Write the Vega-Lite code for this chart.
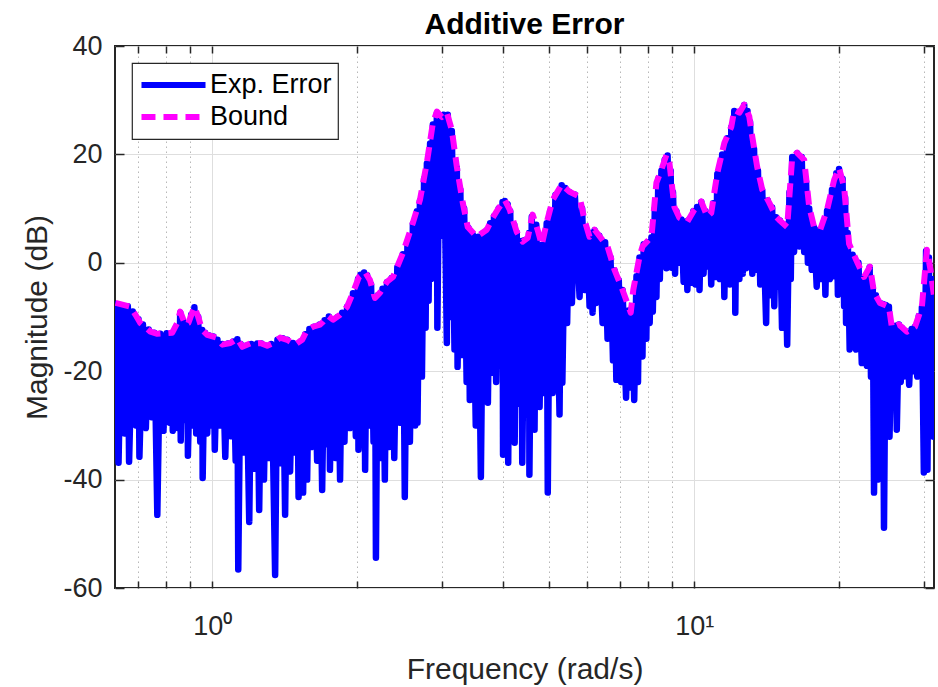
{
  "$schema": "https://vega.github.io/schema/vega-lite/v6.json",
  "width": 819,
  "height": 542,
  "autosize": {"type": "none"},
  "padding": {"left": 115, "top": 46, "right": 4, "bottom": 99},
  "background": "white",
  "title": {"text": "Additive Error", "fontSize": 30, "font": "Liberation Sans", "fontWeight": "bold", "color": "#000000", "anchor": "middle", "frame": "group", "baseline": "alphabetic", "offset": -32},
  "config": {
    "view": {"stroke": "#262626", "strokeWidth": 2},
    "legend": {"orient": "none", "legendX": 17, "legendY": 17, "title": null, "symbolType": "stroke", "symbolSize": 4100, "clipHeight": 32, "symbolStrokeWidth": 6, "labelFontSize": 27, "labelFont": "Liberation Sans", "labelColor": "#000000", "fillColor": "#ffffff", "strokeColor": "#262626", "strokeWidth": 1.2, "padding": 6, "labelOffset": 1, "rowPadding": 0, "symbolOffset": 0, "cornerRadius": 0}
  },
  "datasets": {
    "error": [
      {"f":0.630,"m":-7.6},{"f":0.639,"m":-36.9},{"f":0.648,"m":-7.9},{"f":0.658,"m":-31.5},{"f":0.668,"m":-8.0},{"f":0.672,"m":-36.7},{"f":0.684,"m":-9.0},{"f":0.694,"m":-30.0},{"f":0.703,"m":-10.4},{"f":0.706,"m":-35.8},{"f":0.718,"m":-11.4},{"f":0.728,"m":-30.5},{"f":0.738,"m":-12.3},{"f":0.748,"m":-28.5},{"f":0.758,"m":-12.9},{"f":0.769,"m":-46.5},{"f":0.780,"m":-13.1},{"f":0.792,"m":-31.0},{"f":0.804,"m":-13.0},{"f":0.815,"m":-29.5},{"f":0.826,"m":-12.9},{"f":0.828,"m":-31.0},{"f":0.840,"m":-12.0},{"f":0.850,"m":-30.5},{"f":0.858,"m":-9.2},{"f":0.860,"m":-32.8},{"f":0.870,"m":-10.8},{"f":0.878,"m":-29.0},{"f":0.888,"m":-11.3},{"f":0.890,"m":-35.6},{"f":0.904,"m":-9.6},{"f":0.912,"m":-30.0},{"f":0.918,"m":-8.2},{"f":0.926,"m":-31.5},{"f":0.935,"m":-10.0},{"f":0.944,"m":-33.0},{"f":0.953,"m":-12.4},{"f":0.955,"m":-39.7},{"f":0.966,"m":-12.9},{"f":0.976,"m":-31.5},{"f":0.986,"m":-13.4},{"f":0.995,"m":-30.0},
      {"f":1.005,"m":-13.6},{"f":1.012,"m":-34.5},{"f":1.025,"m":-14.2},{"f":1.037,"m":-30.0},{"f":1.049,"m":-15.0},{"f":1.064,"m":-35.8},{"f":1.078,"m":-14.9},{"f":1.092,"m":-32.0},{"f":1.105,"m":-14.5},{"f":1.118,"m":-36.5},{"f":1.127,"m":-14.1},{"f":1.132,"m":-56.6},{"f":1.145,"m":-15.0},{"f":1.160,"m":-35.0},{"f":1.175,"m":-15.3},{"f":1.193,"m":-47.8},{"f":1.205,"m":-15.0},{"f":1.222,"m":-38.0},{"f":1.238,"m":-14.9},{"f":1.251,"m":-45.6},{"f":1.265,"m":-14.9},{"f":1.280,"m":-40.0},{"f":1.295,"m":-15.3},{"f":1.310,"m":-36.0},{"f":1.325,"m":-15.0},{"f":1.350,"m":-57.6},{"f":1.365,"m":-14.2},{"f":1.383,"m":-37.0},{"f":1.400,"m":-13.9},{"f":1.416,"m":-46.5},{"f":1.430,"m":-14.2},{"f":1.450,"m":-38.5},{"f":1.470,"m":-14.8},{"f":1.485,"m":-35.0},{"f":1.500,"m":-15.0},{"f":1.510,"m":-43.2},{"f":1.525,"m":-14.5},{"f":1.543,"m":-42.4},{"f":1.560,"m":-13.2},{"f":1.573,"m":-40.0},{"f":1.590,"m":-12.2},{"f":1.605,"m":-34.0},{"f":1.625,"m":-11.8},{"f":1.650,"m":-36.5},{"f":1.670,"m":-11.4},{"f":1.690,"m":-41.9},{"f":1.710,"m":-10.6},{"f":1.730,"m":-33.5},{"f":1.745,"m":-9.9},{"f":1.754,"m":-38.2},{"f":1.775,"m":-10.4},{"f":1.800,"m":-36.0},{"f":1.820,"m":-10.0},{"f":1.841,"m":-40.0},{"f":1.860,"m":-9.2},{"f":1.880,"m":-33.0},{"f":1.904,"m":-8.1},{"f":1.930,"m":-30.5},{"f":1.958,"m":-5.6},{"f":1.985,"m":-32.0},{"f":2.006,"m":-3.0},{"f":2.010,"m":-34.5},
      {"f":2.030,"m":-2.2},{"f":2.045,"m":-33.0},{"f":2.065,"m":-1.8},{"f":2.075,"m":-38.2},{"f":2.095,"m":-2.3},{"f":2.115,"m":-30.0},{"f":2.135,"m":-4.0},{"f":2.160,"m":-33.0},{"f":2.175,"m":-6.5},{"f":2.185,"m":-54.4},{"f":2.205,"m":-6.0},{"f":2.230,"m":-36.0},{"f":2.255,"m":-4.8},{"f":2.280,"m":-40.0},{"f":2.303,"m":-3.6},{"f":2.330,"m":-34.0},{"f":2.355,"m":-2.8},{"f":2.385,"m":-36.0},{"f":2.420,"m":-0.8},{"f":2.450,"m":-29.5},{"f":2.485,"m":1.6},{"f":2.508,"m":-43.2},{"f":2.540,"m":3.5},{"f":2.570,"m":-33.0},{"f":2.607,"m":7.2},{"f":2.635,"m":-30.0},{"f":2.658,"m":9.5},{"f":2.665,"m":-29.5},{"f":2.696,"m":11.4},{"f":2.722,"m":-21.0},{"f":2.750,"m":15.5},{"f":2.770,"m":-12.0},{"f":2.787,"m":18.3},{"f":2.810,"m":-7.0},{"f":2.830,"m":22.0},{"f":2.845,"m":-3.0},{"f":2.868,"m":25.5},{"f":2.890,"m":3.0},{"f":2.924,"m":27.6},{"f":2.930,"m":-12.0},{"f":2.960,"m":27.2},{"f":2.985,"m":5.0},{"f":3.020,"m":27.3},{"f":3.066,"m":-14.8},{"f":3.080,"m":27.3},{"f":3.110,"m":-10.0},{"f":3.140,"m":24.3},{"f":3.180,"m":-16.0},{"f":3.216,"m":17.5},{"f":3.227,"m":-19.2},{"f":3.270,"m":13.5},{"f":3.300,"m":-17.0},{"f":3.330,"m":10.0},{"f":3.370,"m":-22.0},{"f":3.400,"m":6.4},{"f":3.421,"m":-25.3},{"f":3.470,"m":5.2},{"f":3.520,"m":-30.0},{"f":3.560,"m":4.8},{"f":3.607,"m":-39.5},{"f":3.650,"m":5.5},{"f":3.680,"m":-20.0},{"f":3.710,"m":6.0},{"f":3.730,"m":-25.8},{"f":3.770,"m":7.3},{"f":3.800,"m":-20.3},{"f":3.840,"m":8.6},{"f":3.880,"m":-22.0},{"f":3.927,"m":10.0},{"f":3.960,"m":-18.0},{"f":4.000,"m":11.2},{"f":4.010,"m":-35.4},
      {"f":4.044,"m":11.4},{"f":4.080,"m":-22.0},{"f":4.100,"m":10.8},{"f":4.110,"m":-36.9},{"f":4.150,"m":9.5},{"f":4.190,"m":-24.0},{"f":4.230,"m":7.0},{"f":4.239,"m":-33.2},{"f":4.281,"m":5.6},{"f":4.330,"m":-26.0},{"f":4.381,"m":4.0},{"f":4.395,"m":-36.9},{"f":4.450,"m":4.2},{"f":4.500,"m":-28.0},{"f":4.540,"m":5.5},{"f":4.548,"m":-39.1},{"f":4.600,"m":8.5},{"f":4.661,"m":-30.8},{"f":4.700,"m":7.0},{"f":4.775,"m":-26.6},{"f":4.825,"m":3.3},{"f":4.870,"m":-24.0},{"f":4.939,"m":7.3},{"f":4.965,"m":-42.4},{"f":5.020,"m":9.5},{"f":5.082,"m":-24.0},{"f":5.150,"m":12.5},{"f":5.252,"m":-28.0},{"f":5.305,"m":14.3},{"f":5.323,"m":-22.1},{"f":5.400,"m":13.8},{"f":5.446,"m":-11.1},{"f":5.511,"m":13.0},{"f":5.572,"m":-7.4},{"f":5.650,"m":12.6},{"f":5.780,"m":-6.3},{"f":5.850,"m":10.0},{"f":5.918,"m":-5.0},{"f":5.990,"m":6.0},{"f":6.062,"m":-8.0},{"f":6.114,"m":5.5},{"f":6.150,"m":-9.2},{"f":6.209,"m":6.0},{"f":6.256,"m":-7.4},{"f":6.350,"m":5.0},{"f":6.451,"m":-11.1},{"f":6.530,"m":3.8},{"f":6.606,"m":-14.0},{"f":6.700,"m":1.0},{"f":6.780,"m":-18.0},{"f":6.830,"m":-1.4},{"f":6.889,"m":-21.6},{"f":6.970,"m":-3.2},{"f":7.050,"m":-22.0},{"f":7.096,"m":-5.0},{"f":7.217,"m":-24.9},{"f":7.300,"m":-8.8},{"f":7.380,"m":-23.0},{"f":7.430,"m":-8.0},{"f":7.503,"m":-25.3},{"f":7.585,"m":-2.5},{"f":7.640,"m":-22.0},{"f":7.694,"m":1.0},{"f":7.805,"m":-17.3},{"f":7.850,"m":3.4},{"f":7.950,"m":-14.0},
      {"f":8.000,"m":3.8},{"f":8.078,"m":-11.1},{"f":8.147,"m":4.7},{"f":8.200,"m":-9.0},{"f":8.280,"m":10.0},{"f":8.343,"m":-6.3},{"f":8.420,"m":15.5},{"f":8.480,"m":-3.0},{"f":8.544,"m":17.0},{"f":8.589,"m":1.1},{"f":8.680,"m":19.0},{"f":8.750,"m":-1.0},{"f":8.800,"m":19.8},{"f":8.876,"m":-0.5},{"f":8.930,"m":17.0},{"f":8.970,"m":-0.9},{"f":9.030,"m":13.0},{"f":9.120,"m":-2.0},{"f":9.180,"m":9.5},{"f":9.310,"m":0.0},{"f":9.400,"m":8.0},{"f":9.500,"m":-3.5},{"f":9.600,"m":7.6},{"f":9.672,"m":-5.0},{"f":9.760,"m":8.0},{"f":9.847,"m":-3.7},{"f":9.950,"m":9.5},{"f":10.05,"m":-4.0},{"f":10.13,"m":10.3},{"f":10.25,"m":-5.0},{"f":10.34,"m":11.2},{"f":10.45,"m":-2.0},{"f":10.55,"m":9.5},{"f":10.64,"m":-0.7},{"f":10.75,"m":8.8},{"f":10.84,"m":-4.0},{"f":10.95,"m":11.0},{"f":11.09,"m":-2.6},{"f":11.16,"m":16.4},{"f":11.30,"m":-3.0},{"f":11.42,"m":20.0},{"f":11.54,"m":-6.3},{"f":11.70,"m":23.0},{"f":11.85,"m":-4.0},{"f":11.93,"m":25.0},{"f":12.02,"m":-2.5},{"f":12.10,"m":28.0},{"f":12.16,"m":-9.2},{"f":12.28,"m":27.0},{"f":12.40,"m":-3.0},{"f":12.50,"m":28.0},{"f":12.60,"m":-2.0},{"f":12.69,"m":29.1},{"f":12.80,"m":-1.0},{"f":12.89,"m":28.0},{"f":12.95,"m":0.6},{"f":13.05,"m":26.0},{"f":13.19,"m":-2.0},{"f":13.30,"m":21.0},{"f":13.44,"m":-1.3},{"f":13.55,"m":17.0},{"f":13.70,"m":-4.0},{"f":13.83,"m":13.4},{"f":14.09,"m":-11.1},{"f":14.20,"m":11.5},{"f":14.35,"m":-6.0},{"f":14.50,"m":10.2},{"f":14.65,"m":-8.0},{"f":14.78,"m":8.4},{"f":14.90,"m":-4.4},{"f":15.05,"m":7.8},{"f":15.20,"m":-12.0},{"f":15.40,"m":7.0},{"f":15.58,"m":-15.1},{"f":15.75,"m":13.0},{"f":15.85,"m":-3.0},{"f":15.96,"m":19.5},
      {"f":16.10,"m":2.0},{"f":16.34,"m":20.2},{"f":16.52,"m":3.0},{"f":16.70,"m":19.5},{"f":16.90,"m":2.0},{"f":17.05,"m":15.0},{"f":17.20,"m":0.0},{"f":17.31,"m":10.0},{"f":17.52,"m":-1.3},{"f":17.72,"m":6.5},{"f":17.94,"m":-4.4},{"f":18.10,"m":6.0},{"f":18.30,"m":-3.0},{"f":18.56,"m":7.5},{"f":18.70,"m":-5.9},{"f":18.85,"m":9.6},{"f":19.10,"m":-3.0},{"f":19.30,"m":13.5},{"f":19.50,"m":-2.5},{"f":19.70,"m":16.5},{"f":19.85,"m":-5.9},{"f":19.96,"m":17.3},{"f":20.10,"m":-3.0},{"f":20.30,"m":15.5},{"f":20.45,"m":-8.0},{"f":20.55,"m":12.0},{"f":20.64,"m":-11.1},{"f":20.80,"m":5.5},{"f":21.00,"m":-16.0},{"f":21.30,"m":1.5},{"f":21.65,"m":-16.0},{"f":21.90,"m":0.0},{"f":22.25,"m":-18.5},{"f":22.49,"m":-2.7},{"f":22.80,"m":-19.0},{"f":23.10,"m":-0.8},{"f":23.25,"m":-21.0},{"f":23.45,"m":-4.5},{"f":23.59,"m":-42.4},{"f":23.80,"m":-6.0},{"f":24.00,"m":-40.0},{"f":24.27,"m":-7.4},{"f":24.45,"m":-24.0},{"f":24.60,"m":-7.6},{"f":24.74,"m":-48.9},{"f":24.95,"m":-7.8},{"f":25.10,"m":-25.0},{"f":25.33,"m":-8.1},{"f":25.40,"m":-32.1},{"f":25.70,"m":-12.0},{"f":25.90,"m":-24.0},{"f":26.16,"m":-11.6},{"f":26.30,"m":-30.8},{"f":26.57,"m":-11.4},{"f":26.80,"m":-22.0},{"f":26.94,"m":-12.0},{"f":27.20,"m":-21.0},{"f":27.61,"m":-12.7},{"f":27.90,"m":-22.5},{"f":28.23,"m":-12.2},{"f":28.50,"m":-20.0},{"f":28.69,"m":-11.8},{"f":29.00,"m":-21.0},{"f":29.22,"m":-9.8},{"f":29.50,"m":-19.7},{"f":29.65,"m":-8.2},{"f":29.93,"m":-38.7},{"f":30.25,"m":2.2},{"f":30.45,"m":-38.2},{"f":30.66,"m":1.0},{"f":30.85,"m":-30.0},{"f":31.11,"m":-3.0},{"f":31.35,"m":-32.1}
    ],
    "bound": [
      {"f":0.630,"m":-7.4},{"f":0.676,"m":-8.1},{"f":0.693,"m":-9.6},{"f":0.709,"m":-11.1},{"f":0.744,"m":-12.7},{"f":0.769,"m":-13.1},{"f":0.826,"m":-12.9},{"f":0.846,"m":-11.1},{"f":0.858,"m":-9.0},{"f":0.879,"m":-11.4},{"f":0.892,"m":-11.1},{"f":0.918,"m":-8.1},{"f":0.935,"m":-10.0},{"f":0.953,"m":-12.4},{"f":0.976,"m":-13.3},{"f":1.019,"m":-13.8},{"f":1.049,"m":-15.1},{"f":1.090,"m":-14.8},{"f":1.127,"m":-14.0},{"f":1.154,"m":-15.5},{"f":1.198,"m":-14.9},{"f":1.257,"m":-14.8},{"f":1.300,"m":-15.3},{"f":1.338,"m":-14.8},{"f":1.383,"m":-13.8},{"f":1.430,"m":-14.2},{"f":1.485,"m":-15.1},{"f":1.536,"m":-14.2},{"f":1.573,"m":-12.4},{"f":1.618,"m":-11.8},{"f":1.673,"m":-11.4},{"f":1.697,"m":-10.9},{"f":1.739,"m":-9.8},{"f":1.780,"m":-10.5},{"f":1.841,"m":-9.6},{"f":1.904,"m":-8.1},{"f":1.958,"m":-5.5},{"f":2.015,"m":-2.6},{"f":2.074,"m":-1.7},{"f":2.124,"m":-3.2},{"f":2.175,"m":-6.5},{"f":2.228,"m":-5.5},{"f":2.303,"m":-3.5},{"f":2.371,"m":-2.6},{"f":2.485,"m":1.8},{"f":2.607,"m":7.4},{"f":2.696,"m":11.6},{"f":2.787,"m":18.5},{"f":2.868,"m":25.8},{"f":2.924,"m":27.9},{"f":2.994,"m":26.9},{"f":3.066,"m":27.7},{"f":3.140,"m":24.5},{"f":3.216,"m":17.7},{"f":3.308,"m":11.1},{"f":3.388,"m":6.6},{"f":3.537,"m":4.8},{"f":3.710,"m":6.1},{"f":3.817,"m":8.3},{"f":3.927,"m":10.1},{"f":4.044,"m":11.6},{"f":4.140,"m":9.8},{"f":4.281,"m":5.7},{"f":4.405,"m":3.9},{"f":4.512,"m":4.6},{"f":4.618,"m":8.9},{"f":4.730,"m":6.1},{"f":4.825,"m":3.3},{"f":4.939,"m":7.4},{"f":5.082,"m":11.6},{"f":5.305,"m":14.4},{"f":5.511,"m":13.1},{"f":5.780,"m":12.2},{"f":5.918,"m":7.9},{"f":6.062,"m":4.8},{"f":6.209,"m":6.1},{"f":6.451,"m":4.2},{"f":6.606,"m":3.0},{"f":6.830,"m":-1.3},{"f":7.096,"m":-5.0},{"f":7.380,"m":-9.2},{"f":7.470,"m":-5.0},{"f":7.694,"m":1.1},{"f":7.805,"m":3.0},{"f":8.147,"m":4.8},{"f":8.343,"m":14.8},{"f":8.544,"m":17.2},{"f":8.750,"m":19.9},{"f":8.876,"m":18.5},{"f":9.091,"m":10.3},{"f":9.310,"m":8.3},{"f":9.672,"m":7.6},{"f":10.00,"m":9.8},{"f":10.34,"m":11.3},{"f":10.64,"m":8.5},{"f":10.84,"m":9.2},{"f":11.16,"m":16.6},{"f":11.54,"m":22.1},{"f":11.93,"m":25.1},{"f":12.10,"m":28.2},{"f":12.40,"m":27.7},{"f":12.69,"m":29.2},{"f":13.00,"m":27.0},{"f":13.19,"m":23.2},{"f":13.50,"m":17.7},{"f":13.83,"m":13.5},{"f":14.30,"m":11.1},{"f":14.78,"m":8.5},{"f":15.00,"m":7.9},{"f":15.58,"m":6.6},{"f":15.96,"m":19.5},{"f":16.34,"m":20.3},{"f":16.90,"m":19.0},{"f":17.31,"m":10.3},{"f":17.72,"m":6.6},{"f":18.24,"m":6.1},{"f":18.85,"m":9.8},{"f":19.50,"m":15.3},{"f":19.96,"m":17.5},{"f":20.45,"m":14.0},{"f":20.94,"m":3.5},{"f":21.75,"m":0.2},{"f":22.49,"m":-2.6},{"f":23.14,"m":-0.7},{"f":23.59,"m":-5.5},{"f":24.27,"m":-7.4},{"f":25.33,"m":-8.1},{"f":25.70,"m":-12.0},{"f":26.57,"m":-11.4},{"f":27.61,"m":-12.7},{"f":28.69,"m":-11.8},{"f":29.65,"m":-8.1},{"f":30.37,"m":2.4},{"f":30.90,"m":-1.3},{"f":31.40,"m":-6.0}
    ]
  },
  "layer": [
    {
      "data": {"name": "error"},
      "mark": {"type": "line", "strokeWidth": 6.5, "strokeJoin": "round", "strokeCap": "round", "clip": true},
      "encoding": {
        "x": {"field": "f", "type": "quantitative",
          "scale": {"type": "log", "domain": [0.6283, 31.416], "nice": false},
          "axis": {"orient": "bottom", "values": [0.7, 0.8, 0.9, 1, 2, 3, 4, 5, 6, 7, 8, 9, 10, 20, 30],
            "labelExpr": "datum.value == 1 ? '10⁰' : (datum.value == 10 ? '10¹' : '')",
            "tickSize": -7, "tickColor": "#262626", "tickWidth": 1.5, "labelPadding": 32,
            "labelFontSize": 27, "labelColor": "#262626", "labelFont": "Liberation Sans", "labelFlush": false, "labelOverlap": false,
            "grid": true,
            "gridColor": {"condition": {"test": "datum.value == 1 || datum.value == 10", "value": "#dedede"}, "value": "#b8b8b8"},
            "gridDash": {"condition": {"test": "datum.value == 1 || datum.value == 10", "value": []}, "value": [1.5, 3.5]},
            "gridWidth": 1,
            "domain": false,
            "title": "Frequency (rad/s)", "titleFontSize": 30, "titleFont": "Liberation Sans", "titleFontWeight": "normal", "titleColor": "#262626", "titlePadding": 15}},
        "y": {"field": "m", "type": "quantitative",
          "scale": {"domain": [-60, 40], "nice": false},
          "axis": {"orient": "left", "values": [-60, -40, -20, 0, 20, 40],
            "labelExpr": "toString(datum.value)",
            "tickSize": -9, "tickColor": "#262626", "tickWidth": 1.5, "labelPadding": 22,
            "labelFontSize": 27, "labelColor": "#262626", "labelFont": "Liberation Sans",
            "grid": true, "gridColor": "#dedede", "gridWidth": 1, "domain": false,
            "title": "Magnitude (dB)", "titleFontSize": 30, "titleFont": "Liberation Sans", "titleFontWeight": "normal", "titleColor": "#262626", "titlePadding": 10}},
        "color": {"datum": "Exp. Error", "scale": {"domain": ["Exp. Error", "Bound"], "range": ["#0000ff", "#ff00ff"]}},
        "strokeDash": {"datum": "Exp. Error", "scale": {"domain": ["Exp. Error", "Bound"], "range": [[1, 0], [14, 8]]}}
      }
    },
    {
      "data": {"name": "bound"},
      "mark": {"type": "line", "strokeWidth": 6, "strokeJoin": "round", "strokeCap": "butt", "clip": true},
      "encoding": {
        "x": {"field": "f", "type": "quantitative",
          "axis": {"orient": "top", "values": [0.7, 0.8, 0.9, 1, 2, 3, 4, 5, 6, 7, 8, 9, 10, 20, 30], "labels": false, "tickSize": -7, "tickColor": "#262626", "tickWidth": 1.5, "grid": false, "domain": false, "title": null}},
        "y": {"field": "m", "type": "quantitative",
          "axis": {"orient": "right", "values": [-60, -40, -20, 0, 20, 40], "labels": false, "tickSize": -9, "tickColor": "#262626", "tickWidth": 1.5, "grid": false, "domain": false, "title": null}},
        "color": {"datum": "Bound"},
        "strokeDash": {"datum": "Bound"}
      }
    }
  ],
  "resolve": {"axis": {"x": "independent", "y": "independent"}}
}
